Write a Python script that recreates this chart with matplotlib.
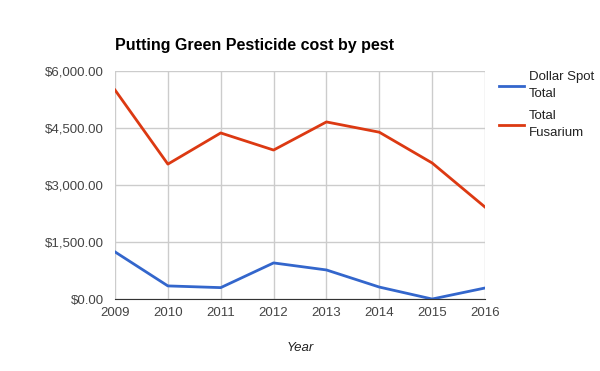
import matplotlib.pyplot as plt
from matplotlib.ticker import FuncFormatter

plt.rcParams['font.family'] = ['Liberation Sans', 'DejaVu Sans']

# Data
years = [2009, 2010, 2011, 2012, 2013, 2014, 2015, 2016]
dollar_spot = [1240, 345, 300, 950, 765, 315, 0, 290]
fusarium = [5500, 3550, 4370, 3920, 4660, 4390, 3580, 2420]

fig = plt.figure(figsize=(6, 3.71), dpi=100)
ax = fig.add_axes([0.1917, 0.194, 0.6166, 0.6146])

ax.plot(years, dollar_spot, color='#3366cc', lw=2, label='Dollar Spot\nTotal')
ax.plot(years, fusarium, color='#dc3912', lw=2, label='Total\nFusarium')

ax.set_xlim(2009, 2016)
ax.set_ylim(0, 6000)
ax.set_yticks([0, 1500, 3000, 4500, 6000])
ax.set_xticks(years)
ax.yaxis.set_major_formatter(FuncFormatter(lambda v, p: '${:,.2f}'.format(v)))
ax.grid(True, color='#cccccc', lw=1)
ax.set_axisbelow(True)
for s in ['top', 'right', 'left']:
    ax.spines[s].set_visible(False)
ax.spines['bottom'].set_color('#333333')
ax.tick_params(length=0, labelsize=9.5, colors='#444444')
ax.tick_params(axis='y', pad=8)
ax.tick_params(axis='x', pad=6)

ax.set_xlabel('Year', fontsize=9.5, style='italic', color='#222222', labelpad=16)
fig.text(0.1917, 0.877, 'Putting Green Pesticide cost by pest', fontsize=11.5,
         fontweight='bold', ha='left', va='center')

leg = ax.legend(loc='upper left', bbox_to_anchor=(1.005, 1.05), frameon=False,
                fontsize=9.5, handlelength=1.9, labelspacing=0.75, handletextpad=0.4)
for t in leg.get_texts():
    t.set_color('#222222')
    t.set_linespacing(1.55)

plt.savefig('out.png', dpi=100)
